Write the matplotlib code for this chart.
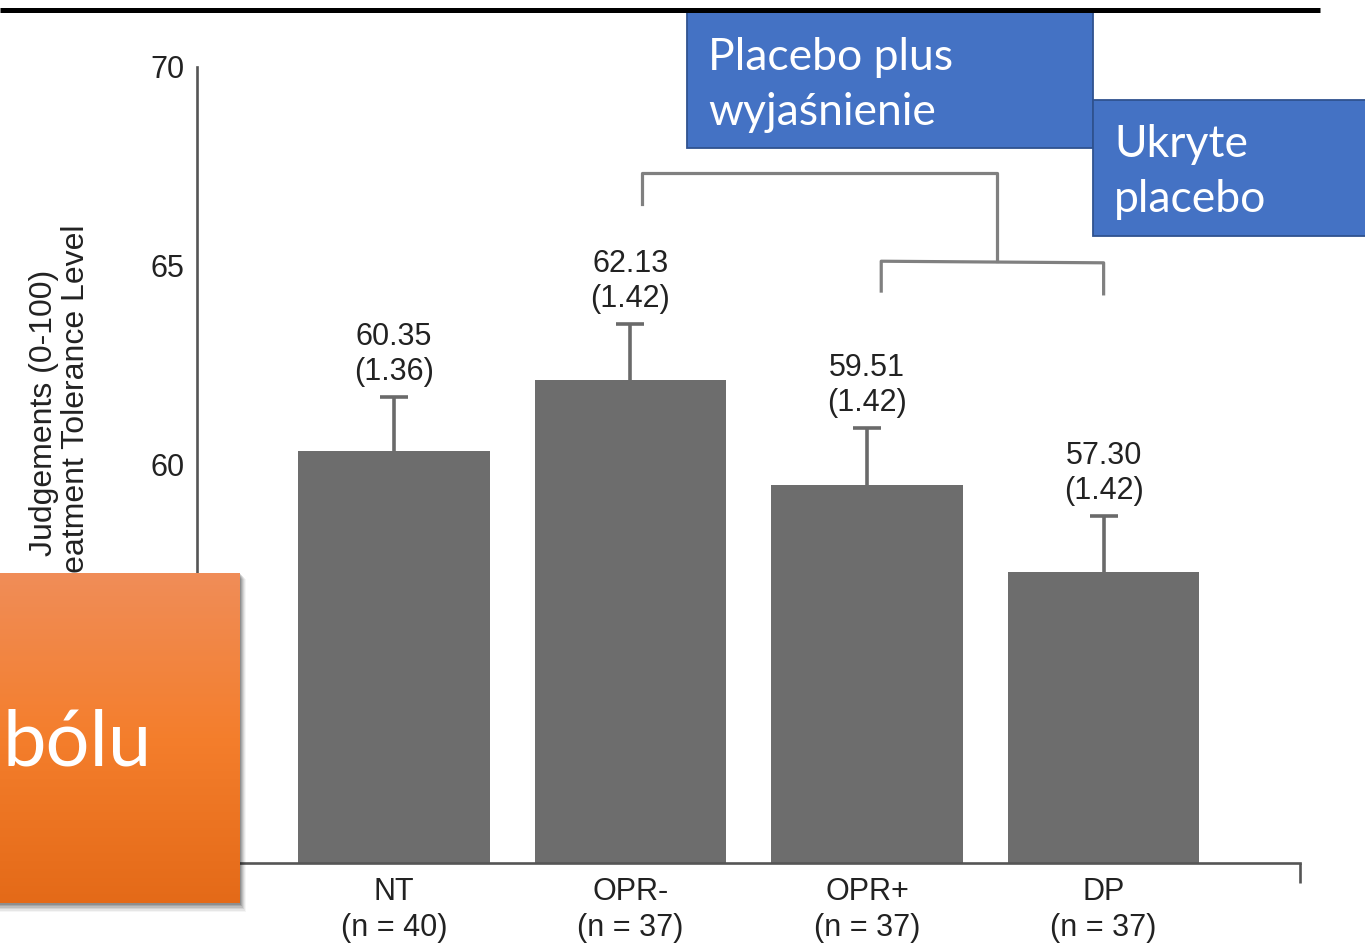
import numpy as np
import matplotlib
matplotlib.use("Agg")
import matplotlib.pyplot as plt
from matplotlib.patches import Rectangle

# ---- data ----
groups = ["NT", "OPR-", "OPR+", "DP"]
group_n = [40, 37, 37, 37]
means = [60.35, 62.13, 59.51, 57.30]
sems = [1.36, 1.42, 1.42, 1.42]
yticks = [50, 55, 60, 65, 70]
ylabel_lines = ["Judgements (0-100)", "Treatment Tolerance Level"]
box1_lines = ["Placebo plus", "wyjaśnienie"]
box2_lines = ["Ukryte", "placebo"]
orange_text = "bólu"

W, H = 1365, 944
fig = plt.figure(figsize=(W / 100, H / 100), dpi=100)
fig.patch.set_facecolor("white")

sans = ["Liberation Sans", "DejaVu Sans"]
box_font = ["Lato", "DejaVu Sans"]
fs = 22

ax = fig.add_axes([197 / W, 1 - 863 / H, (1300 - 197) / W, (863 - 67) / H])
x = np.arange(len(groups))
bar_color = "#6d6d6d"
ax.bar(x, means, width=0.81, color=bar_color, zorder=2)
eb = ax.errorbar(x, means, yerr=[np.zeros(len(sems)), sems], fmt="none",
                 ecolor="#6a6a6a", elinewidth=2.6, capsize=10, capthick=2.6, zorder=1)
# hide the lower caps (one-sided error bars)
caplines = eb[1]
if len(caplines) == 2:
    caplines[0].set_visible(False)

for xi, m, s in zip(x, means, sems):
    ax.annotate(f"{m:.2f}\n({s:.2f})", xy=(xi, m + s), xytext=(0, 7),
                textcoords="offset points", ha="center", va="bottom",
                fontsize=fs, family=sans, color="#222222", linespacing=1.22)

ax.set_ylim(50, 70)
ax.set_xlim(-0.832, 3.83)
ax.set_yticks(yticks)
ax.set_yticklabels([str(t) for t in yticks], fontsize=fs, family=sans, color="#222222")
ax.set_xticks(x)
ax.set_xticklabels([f"{g}\n(n = {n})" for g, n in zip(groups, group_n)],
                   fontsize=fs, family=sans, color="#222222", linespacing=1.25)
ax.tick_params(axis="both", length=0)
ax.tick_params(axis="y", pad=9)
ax.tick_params(axis="x", pad=10)
for side in ["top", "right"]:
    ax.spines[side].set_visible(False)
spine_color = "#555555"
for side in ["left", "bottom"]:
    ax.spines[side].set_color(spine_color)
    ax.spines[side].set_linewidth(1.9)
ax.plot([1, 1], [0, -0.025], transform=ax.transAxes, color=spine_color,
        lw=1.9, clip_on=False, solid_capstyle="butt")

# comparison brackets
bcol = "#808080"
lo_l, lo_r = x[2] + 0.06, x[3]
lo_mid = (lo_l + lo_r) / 2 + 0.02
ax.plot([x[1] + 0.05, x[1] + 0.05, lo_mid, lo_mid], [66.55, 67.33, 67.33, 65.12],
        color=bcol, lw=2.3, clip_on=False, zorder=4)
ax.plot([lo_l, lo_l, lo_r, lo_r], [64.37, 65.12, 65.08, 64.3],
        color=bcol, lw=2.3, clip_on=False, zorder=4)

# y label (two centred lines)
fig.text(60 / W, 1 - 413 / H, "\n".join(ylabel_lines), rotation=90, ha="center",
         va="center", multialignment="center", fontsize=23, family=sans,
         color="#222222", linespacing=1.1)

# ---- overlay (slide decorations) ----
ov = fig.add_axes([0, 0, 1, 1], zorder=10)
ov.patch.set_alpha(0)
ov.axis("off")

ov.plot([0, 1320], [10, 10], color="black", lw=3.6, solid_capstyle="butt")

blue, blue_edge = "#4472C4", "#2F528F"
ov.add_patch(Rectangle((687, 12), 406, 136, fc=blue, ec=blue_edge, lw=1.3))
ov.add_patch(Rectangle((1093, 100), 290, 136, fc=blue, ec=blue_edge, lw=1.3))
for i, t in enumerate(box1_lines):
    ov.text(708, 70 + 55 * i, t, color="white", fontsize=32, family=box_font,
            ha="left", va="baseline")
for i, t in enumerate(box2_lines):
    ov.text(1114, 157 + 55 * i, t, color="white", fontsize=32, family=box_font,
            ha="left", va="baseline")

# orange box with shadow & gradient
for k, a in zip(range(6, 0, -1), [0.04, 0.06, 0.08, 0.10, 0.12, 0.14]):
    ov.add_patch(Rectangle((0, 573 + k), 240 + k, 330 + k * 0.5, fc="#000000",
                           ec="none", alpha=a))
stops = np.array([[240, 141, 88], [244, 126, 44], [228, 106, 24]]) / 255.0
t = np.linspace(0, 1, 200)
grad = np.stack([np.interp(t, [0, 0.5, 1], stops[:, c]) for c in range(3)], axis=-1)
ov.imshow(grad[:, None, :], extent=(0, 240, 903, 573), aspect="auto",
          interpolation="bilinear", zorder=2)
ov.text(2, 765, orange_text, color="white", fontsize=56, family=box_font,
        ha="left", va="baseline", zorder=3)

ov.set_xlim(0, W)
ov.set_ylim(H, 0)

fig.savefig("out.png", dpi=100)
